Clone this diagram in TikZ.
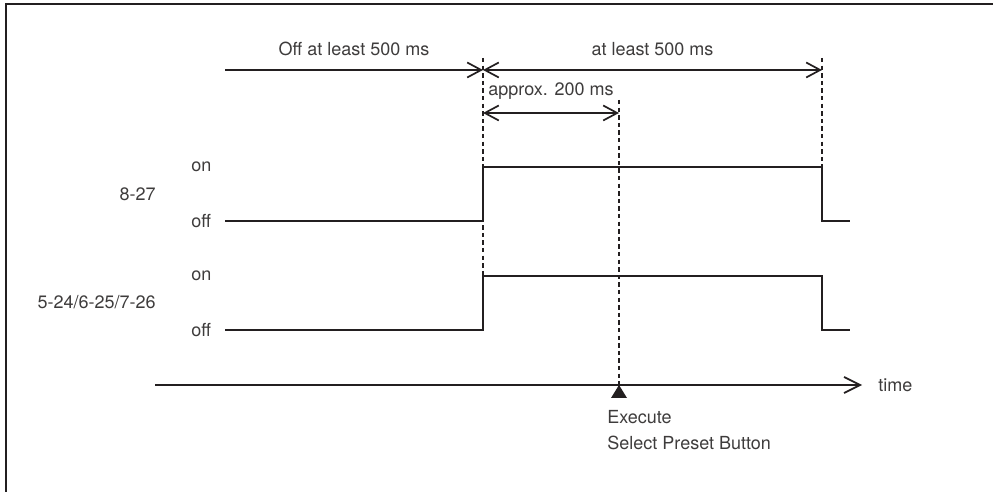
\documentclass[tikz,border=0pt]{standalone}
\usepackage{fontspec}
\setmainfont{TeX Gyre Heros}
\usetikzlibrary{arrows.meta,positioning}
\definecolor{TDInk}{RGB}{35,31,32}
\definecolor{TDText}{RGB}{62,60,60}

\begin{document}
\begin{tikzpicture}[x=0.5pt,y=-0.5pt,line cap=butt,>={Straight Barb[length=7pt,width=7.5pt]},
  wave/.style={draw=TDInk,line width=1pt},
  guide/.style={draw=TDInk,line width=0.75pt,dash pattern=on 2.2pt off 1.6pt},
  dimline/.style={draw=TDInk,line width=0.85pt},
  lbl/.style={font=\fontsize{9}{13}\selectfont,text=TDText,inner sep=0pt}]
\useasboundingbox (0,0) rectangle (993,492);
% frame, cut off at the page edge
\draw[draw=TDInk,line width=1pt] (6,492) |- (993,4);

% time marks
\coordinate (a0) at (225,70); \coordinate (a1) at (483,70); \coordinate (a2) at (822,70);
\coordinate (b1) at (483,113); \coordinate (b2) at (619,113);
\coordinate (ax0) at (155,385); \coordinate (ax1) at (862,385); \coordinate (exe) at (619,385);

% dashed guides
\draw[guide] (483,58) coordinate (g1t) -- (483,330) coordinate (g1b);
\draw[guide] (822,58) coordinate (g2t) -- (822,167) coordinate (g2b);
\draw[guide] (619,100) coordinate (g3t) -- (exe);

% dimension arrows
\draw[dimline,->] (a0) -- (a1) node[lbl,midway,above=6.5pt] (offmin) {Off at least 500 ms};
\draw[dimline,<->] (a1) -- (a2) node[lbl,midway,above=6.5pt] (onmin) {at least 500 ms};
\draw[dimline,<->] (b1) -- (b2) node[lbl,midway,above=6.5pt] (delay) {approx. 200 ms};

% signal 8-27
\coordinate (p0) at (225,221); \coordinate (p1) at (483,221); \coordinate (p2) at (483,167);
\coordinate (p3) at (822,167); \coordinate (p4) at (822,221); \coordinate (p5) at (850,221);
\draw[wave] (p0) -- (p1) -- (p2) -- (p3) -- (p4) -- (p5);
\node[lbl,anchor=west] (on1) at (191,167) {on};
\node[lbl,anchor=west] (off1) at (191,221) {off};
\node[lbl,anchor=east] (sig1) at (156,194) {8-27};

% signal 5-24/6-25/7-26
\coordinate (q0) at (225,330); \coordinate (q1) at (483,330); \coordinate (q2) at (483,276);
\coordinate (q3) at (822,276); \coordinate (q4) at (822,330); \coordinate (q5) at (850,330);
\draw[wave] (q0) -- (q1) -- (q2) -- (q3) -- (q4) -- (q5);
\node[lbl,anchor=west] (on2) at (191,276) {on};
\node[lbl,anchor=west] (off2) at (191,330) {off};
\node[lbl,anchor=east] (sig2) at (156,302) {5-24/6-25/7-26};

% time axis and trigger
\draw[dimline,-{Straight Barb[length=8pt,width=8pt]}] (ax0) -- (ax1);
\node[lbl,anchor=west] (tlbl) at (878,385) {time};
\fill[TDInk] (exe) -- ++(-8,13) -- ++(16,0) -- cycle;
\node[lbl,anchor=north west,align=left] (exelbl) at (607,410) {Execute\\Select Preset Button};
\end{tikzpicture}
\end{document}
